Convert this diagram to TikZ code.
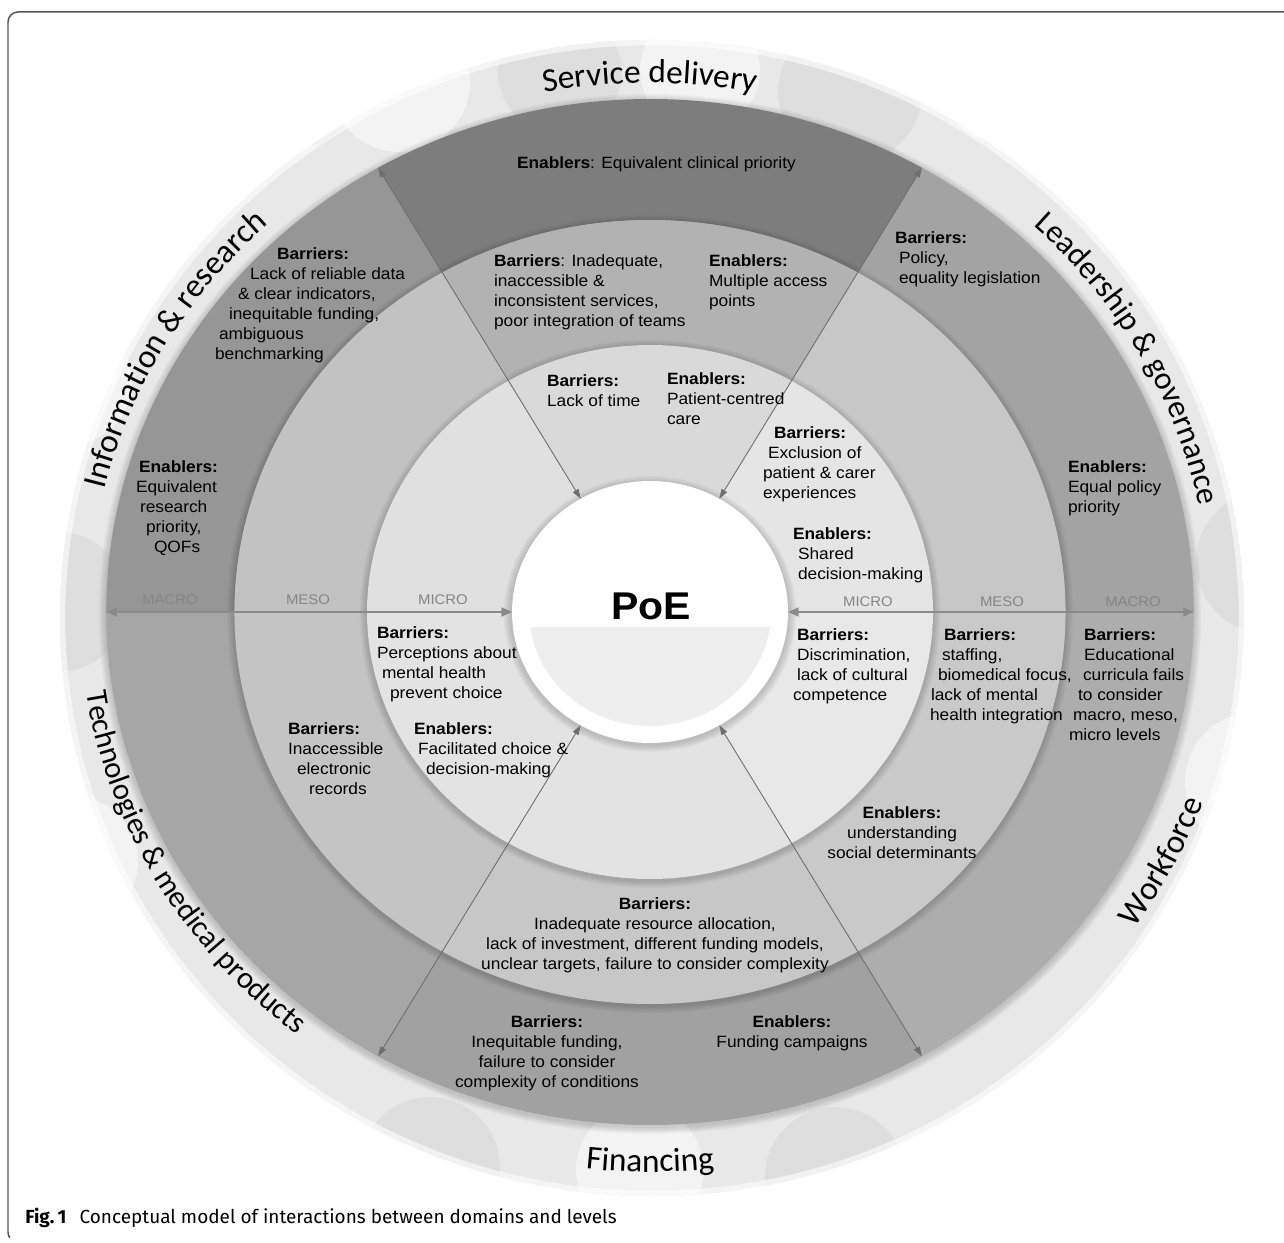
\documentclass[tikz,border=0pt]{standalone}
\usepackage{fontspec}
\setmainfont{Liberation Sans}[FakeStretch=1.06]
\newfontfamily\domfont{Carlito}
\newfontfamily\capfont{Fira Sans}
\usetikzlibrary{arrows.meta,decorations.text,shapes.geometric,calc}

\definecolor{ringout}{HTML}{E8E8E8}
\definecolor{lvlgrey}{HTML}{858585}
\definecolor{arrgrey}{HTML}{6E6E6E}
\definecolor{harrgrey}{HTML}{8A8A8A}
\definecolor{framegrey}{HTML}{555555}
\definecolor{poegrey}{HTML}{EEEEEE}

\newdimen\pxunit \pxunit=0.02cm
\newcommand\lpad[1]{\hspace*{#1\pxunit}}
\newcommand\bodyfont{\fontsize{9.3}{11.38}\selectfont}
\newcommand\lvlfont{\fontsize{8}{9}\selectfont}
\newcommand\domlab[1]{\domfont\fontsize{#1}{21}\selectfont}

% one annular sector of 60 degrees, local (unstretched) coordinates
\newcommand\ringsector[4]{%
  \fill[#4] (#1:#2) arc[start angle=#1, end angle=#1+60, radius=#2]
    -- (#1+60:#3) arc[start angle=#1+60, end angle=#1, radius=#3] -- cycle;}
\newcommand\piesector[3]{%
  \fill[#3] (0,0) -- (#1:#2) arc[start angle=#1, end angle=#1+60, radius=#2] -- cycle;}
% soft shade just outside a disc of radius #1
\newcommand\softshade[1]{%
  \foreach \k in {1,...,7}{\fill[black, opacity=0.025] (0,-2) circle[radius=#1+\k];}}

\begin{document}
\begin{tikzpicture}[x=0.02cm, y=0.02cm,
  txt/.style={anchor=north west, inner sep=0pt, outer sep=0pt, align=left, font=\bodyfont},
  ctxt/.style={anchor=north, inner sep=0pt, outer sep=0pt, align=center, font=\bodyfont},
  lvl/.style={inner sep=0pt, font=\lvlfont, text=lvlgrey},
  darr/.style={draw=arrgrey, line width=0.5pt,
    {Triangle[length=5.5pt,width=3.6pt]}-{Triangle[length=5.5pt,width=3.6pt]}},
  harr/.style={draw=harrgrey, line width=1.1pt,
    {Triangle[length=6pt,width=5pt]}-{Triangle[length=6pt,width=5pt]}},
  dom/.style 2 args={decorate, decoration={text along path, text align=center, text={|\domlab{#1}|#2}}}
]
\useasboundingbox (0,0) rectangle (1284,1242);
\fill[white] (0,0) rectangle (1284,1242);

% frame
\draw[framegrey, line width=0.85pt] (1284,1230) -- (18,1230)
  arc[start angle=90, end angle=180, radius=10] -- (8,10)
  arc[start angle=180, end angle=215, radius=10];

\coordinate (C) at (650,630);

% outer decorative ring with bubbles
\begin{scope}
  \clip (652,624) ellipse[x radius=592, y radius=578];
  \fill[ringout] (652,624) ellipse[x radius=592, y radius=578];
  \foreach \bx/\by/\br/\bc/\bo in {
      400/1160/70/white/0.5, 560/1170/62/black/0.04, 700/1172/60/white/0.5, 850/1150/72/black/0.04,
      1220/940/62/white/0.5, 1268/680/72/black/0.04, 1255/460/70/white/0.5,
      430/75/70/black/0.04, 640/72/64/white/0.5, 835/65/70/black/0.04, 1195/230/62/black/0.04,
      70/860/62/white/0.5, 58/640/70/black/0.04, 72/380/66/white/0.5, 180/150/60/black/0.04,
      1110/1100/60/black/0.04, 200/1090/60/white/0.5, 300/1150/55/black/0.04, 1000/1160/60/white/0.5}{
    \fill[\bc, opacity=\bo] (\bx,\by) circle[radius=\br];}
  \draw[white, line width=6pt, opacity=0.6] (652,624) ellipse[x radius=592, y radius=578];
\end{scope}

\begin{scope}[shift={(650,630)}, xscale=1.06]
  \softshade{513}
  % macro ring
  \ringsector{0}{513}{392}{black!36}
  \ringsector{60}{513}{392}{black!51}
  \ringsector{120}{513}{392}{black!41}
  \ringsector{180}{513}{392}{black!35}
  \ringsector{240}{513}{392}{black!37}
  \ringsector{300}{513}{392}{black!32}
  \softshade{392}
  % meso ring
  \ringsector{0}{392}{267}{black!22}
  \ringsector{60}{392}{267}{black!30}
  \ringsector{120}{392}{267}{black!24}
  \ringsector{180}{392}{267}{black!23}
  \ringsector{240}{392}{267}{black!22}
  \ringsector{300}{392}{267}{black!21}
  \softshade{267}
  % micro disc
  \piesector{0}{267}{black!10}
  \piesector{60}{267}{black!15}
  \piesector{120}{267}{black!12}
  \piesector{180}{267}{black!11}
  \piesector{240}{267}{black!11}
  \piesector{300}{267}{black!9}
  \softshade{131}
  % arrow ends on the macro boundary
  \coordinate (aTL) at (120:513);
  \coordinate (aTR) at (60:513);
  \coordinate (aBL) at (240:513);
  \coordinate (aBR) at (300:513);
  \coordinate (aL) at (180:513);
  \coordinate (aR) at (0:513);
\end{scope}

% centre
\node[ellipse, fill=white, minimum width=5.52cm, minimum height=5.24cm,
      inner sep=0pt, outer sep=0pt] (poe) at (C) {};
\begin{scope}[shift={(650,630)}, xscale=1.06]
  \clip (-200,-15) rectangle (200,-200);
  \fill[poegrey] (0,0) circle[radius=114];
\end{scope}
\node[inner sep=0pt, font=\fontsize{22}{24}\selectfont\bfseries] (poetxt) at (651,636) {PoE};

% connectors
\draw[darr] (aTL) -- (poe);
\draw[darr] (aTR) -- (poe);
\draw[darr] (aBL) -- (poe);
\draw[darr] (aBR) -- (poe);
\draw[harr] (aL) -- (poe);
\draw[harr] (aR) -- (poe);

% level labels
\node[lvl] (lmacro) at (170,642) {MACRO};
\node[lvl] (lmeso) at (308,642) {MESO};
\node[lvl] (lmicro) at (443,642) {MICRO};
\node[lvl] (rmicro) at (868,640) {MICRO};
\node[lvl] (rmeso) at (1002,640) {MESO};
\node[lvl] (rmacro) at (1133,640) {MACRO};

% domain labels
\path[dom={19}{Service delivery}] ($(C)+(120:560.7 and 529)$)
  arc[start angle=120, end angle=60, x radius=560.7, y radius=529];
\path[dom={19}{Information {\&} research}] ($(C)+(180:560.7 and 529)$)
  arc[start angle=180, end angle=120, x radius=560.7, y radius=529];
\path[dom={18.3}{Leadership {\&} governance}] ($(C)+(59:560.7 and 529)$)
  arc[start angle=59, end angle=-1, x radius=560.7, y radius=529];
\path[dom={19}{Workforce}] ($(C)+(-57:589 and 556)$)
  arc[start angle=-57, end angle=3, x radius=589, y radius=556];
\path[dom={19}{Financing}] ($(C)+(240:594 and 560)$)
  arc[start angle=240, end angle=300, x radius=594, y radius=560];
\path[dom={17.4}{Technologies {\&} medical products}] ($(C)+(180:570 and 538)$)
  arc[start angle=180, end angle=240, x radius=570, y radius=538];

% barriers and enablers
\node[txt] (t1) at (517,1085.8) {\textbf{Enablers}: Equivalent clinical priority};
\node[txt] (t2) at (494,987.8) {\textbf{Barriers}: Inadequate,\\ inaccessible \&\\ inconsistent services,\\ poor integration of teams};
\node[txt] (t3) at (709,987.8) {\textbf{Enablers:}\\ Multiple access\\ points};
\node[txt] (t4) at (895,1010.8) {\textbf{Barriers:}\\ \lpad{4}Policy,\\ \lpad{4}equality legislation};
\node[txt] (t5) at (215,994.8) {\lpad{62}\textbf{Barriers:}\\ \lpad{35}Lack of reliable data\\ \lpad{23}\& clear indicators,\\ \lpad{14}inequitable funding,\\ \lpad{4}ambiguous\\ benchmarking};
\node[txt] (t6) at (547,867.8) {\textbf{Barriers:}\\ Lack of time};
\node[txt] (t7) at (667,869.8) {\textbf{Enablers:}\\ Patient-centred\\ care};
\node[txt] (t8) at (763,815.8) {\lpad{11}\textbf{Barriers:}\\ \lpad{5}Exclusion of\\ patient \& carer\\ experiences};
\node[txt] (t9) at (1068,781.8) {\textbf{Enablers:}\\ Equal policy\\ priority};
\node[txt] (t10) at (793,714.8) {\textbf{Enablers:}\\ \lpad{5}Shared\\ \lpad{5}decision-making};
\node[txt] (t11) at (136,781.8) {\lpad{3}\textbf{Enablers:}\\ Equivalent\\ \lpad{4}research\\ \lpad{10}priority,\\ \lpad{18}QOFs};
\node[txt] (t12) at (377,615.8) {\textbf{Barriers:}\\ Perceptions about\\ \lpad{5}mental health\\ \lpad{13}prevent choice};
\node[txt] (t13) at (793,613.8) {\lpad{4}\textbf{Barriers:}\\ \lpad{4}Discrimination,\\ \lpad{4}lack of cultural\\ competence};
\node[txt] (t14) at (930,613.8) {\lpad{14}\textbf{Barriers:}\\ \lpad{12}staffing,\\ \lpad{8}biomedical focus,\\ \lpad{1}lack of mental\\ health integration};
\node[txt] (t15) at (1069,613.8) {\lpad{15}\textbf{Barriers:}\\ \lpad{15}Educational\\ \lpad{14}curricula fails\\ \lpad{9}to consider\\ \lpad{4}macro, meso,\\ micro levels};
\node[txt] (t16) at (288,519.8) {\textbf{Barriers:}\\ Inaccessible\\ \lpad{9}electronic\\ \lpad{21}records};
\node[txt] (t17) at (414,519.8) {\textbf{Enablers:}\\ \lpad{4}Facilitated choice \&\\ \lpad{12}decision-making};
\node[ctxt] (t18) at (902,435.8) {\textbf{Enablers:}\\ understanding\\ social determinants};
\node[ctxt] (t19) at (655,344.8) {\textbf{Barriers:}\\ Inadequate resource allocation,\\ lack of investment, different funding models,\\ unclear targets, failure to consider complexity};
\node[ctxt] (t20) at (547,226.8) {\textbf{Barriers:}\\ Inequitable funding,\\ failure to consider\\ complexity of conditions};
\node[ctxt] (t21) at (792,226.8) {\textbf{Enablers:}\\ Funding campaigns};

% caption
\node[anchor=west, inner sep=0pt, font=\capfont\fontsize{10.8}{13}\selectfont] (cap) at (25,24)
  {\textbf{Fig.\,1}\hspace{0.7em}Conceptual model of interactions between domains and levels};
\end{tikzpicture}
\end{document}
